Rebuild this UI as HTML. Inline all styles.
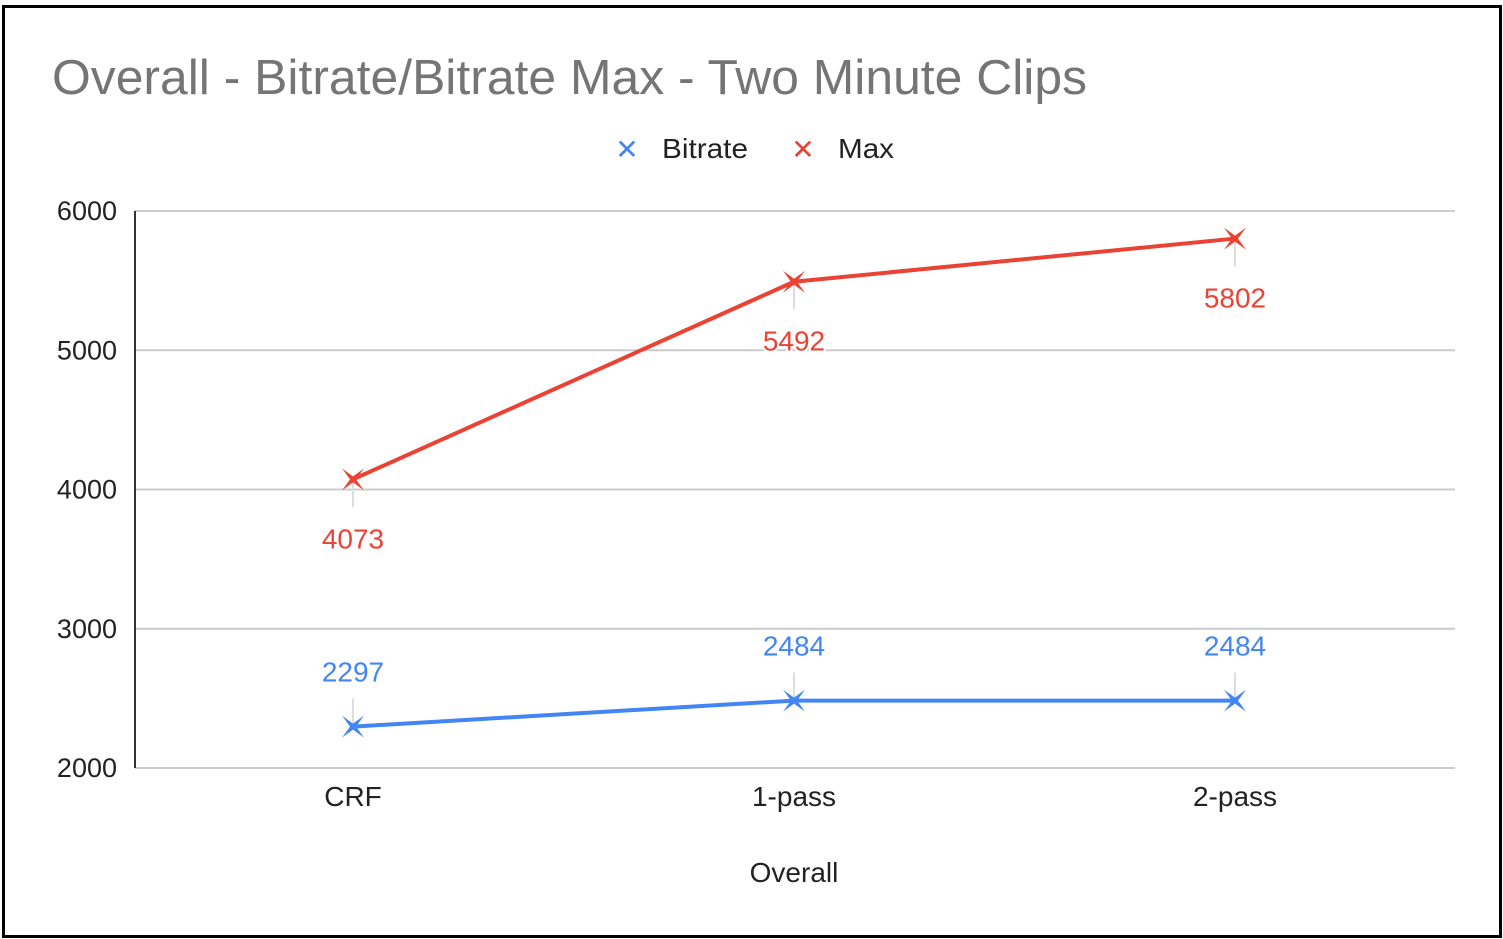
<!DOCTYPE html>
<html><head><meta charset="utf-8"><style>
html,body{margin:0;padding:0;background:#fff;}
svg{display:block;font-family:"Liberation Sans",Arial,sans-serif;}
</style></head><body>
<svg id="chart" width="1503" height="939" viewBox="0 0 1503 939">
<rect x="3.5" y="6.5" width="1497" height="930" fill="#fff" stroke="#000" stroke-width="3"/>
<text x="52" y="94" font-size="49" fill="#757575" textLength="1035" lengthAdjust="spacingAndGlyphs">Overall - Bitrate/Bitrate Max - Two Minute Clips</text>
<g>
<g><text x="627" y="159" font-size="28" fill="#4285f4" text-anchor="middle">✕</text><text x="662" y="158" font-size="28" fill="#222" textLength="86" lengthAdjust="spacingAndGlyphs">Bitrate</text></g>
<g><text x="803" y="159" font-size="28" fill="#ea4335" text-anchor="middle">✕</text><text x="838" y="158" font-size="28" fill="#222" textLength="56" lengthAdjust="spacingAndGlyphs">Max</text></g>
</g>
<g id="grid"></g>
<g id="marks"></g>
<text x="794" y="882" font-size="28" fill="#222" text-anchor="middle">Overall</text>
</svg>
<script>
const categories = ["CRF","1-pass","2-pass"];
const bitrate = [2297,2484,2484];
const maxv = [4073,5492,5802];
const yTicks = [2000,3000,4000,5000,6000];

const NS="http://www.w3.org/2000/svg";
const y0=768, y1=211, vmin=2000, vmax=6000;
const xL=135, xR=1455;
function ys(v){return y0-(v-vmin)/(vmax-vmin)*(y0-y1);}
function xs(i){return 353+i*441;}
function mk(tag,attrs,parent){const e=document.createElementNS(NS,tag);for(const k in attrs)e.setAttribute(k,attrs[k]);parent.appendChild(e);return e;}
const grid=document.getElementById('grid'), marks=document.getElementById('marks');
yTicks.forEach(t=>{
  const l=mk('line',{x1:xL,x2:xR,y1:ys(t),y2:ys(t),stroke:'#ccc','stroke-width':2},grid);
  
  
  const tx=mk('text',{x:117,y:ys(t)+9,'font-size':27,fill:'#222','text-anchor':'end'},grid);
  tx.textContent=t;
  
  
});
const ax=mk('line',{x1:xL,x2:xL,y1:y1,y2:y0,stroke:'#333','stroke-width':2},grid);


categories.forEach((c,i)=>{
  const tx=mk('text',{x:xs(i),y:806,'font-size':28,fill:'#222','text-anchor':'middle'},grid);
  tx.textContent=c;
  
  
});
function star(x,y,col,parent){
  const r=11,q=3;
  const pts=[[x-r,y-r],[x,y-q],[x+r,y-r],[x+q,y],[x+r,y+r],[x,y+q],[x-r,y+r],[x-q,y]].map(p=>p.join(',')).join(' ');
  return mk('polygon',{points:pts,fill:col},parent);
}
function series(vals,col,name,above){
  vals.forEach((v,i)=>{
    const yy=ys(v), ly= above? yy-28 : yy+28;
    const l=mk('line',{x1:xs(i),x2:xs(i),y1:yy,y2:ly,stroke:'#ddd','stroke-width':2},marks);
    
    
  });
  const p=mk('polyline',{points:vals.map((v,i)=>xs(i)+','+ys(v)).join(' '),fill:'none',stroke:col,'stroke-width':4},marks);
  
  
  vals.forEach((v,i)=>{
    const s=star(xs(i),ys(v),col,marks);
    
    
    const ty= above? ys(v)-45 : ys(v)+69;
    const t=mk('text',{x:xs(i),y:ty,'font-size':28,fill:col,'text-anchor':'middle',stroke:'#fff','stroke-width':4,'paint-order':'stroke'},marks);
    t.textContent=v;
    
    
  });
}
series(maxv,'#ea4335','max',false);
series(bitrate,'#4285f4','bitrate',true);
</script>
</body></html>
